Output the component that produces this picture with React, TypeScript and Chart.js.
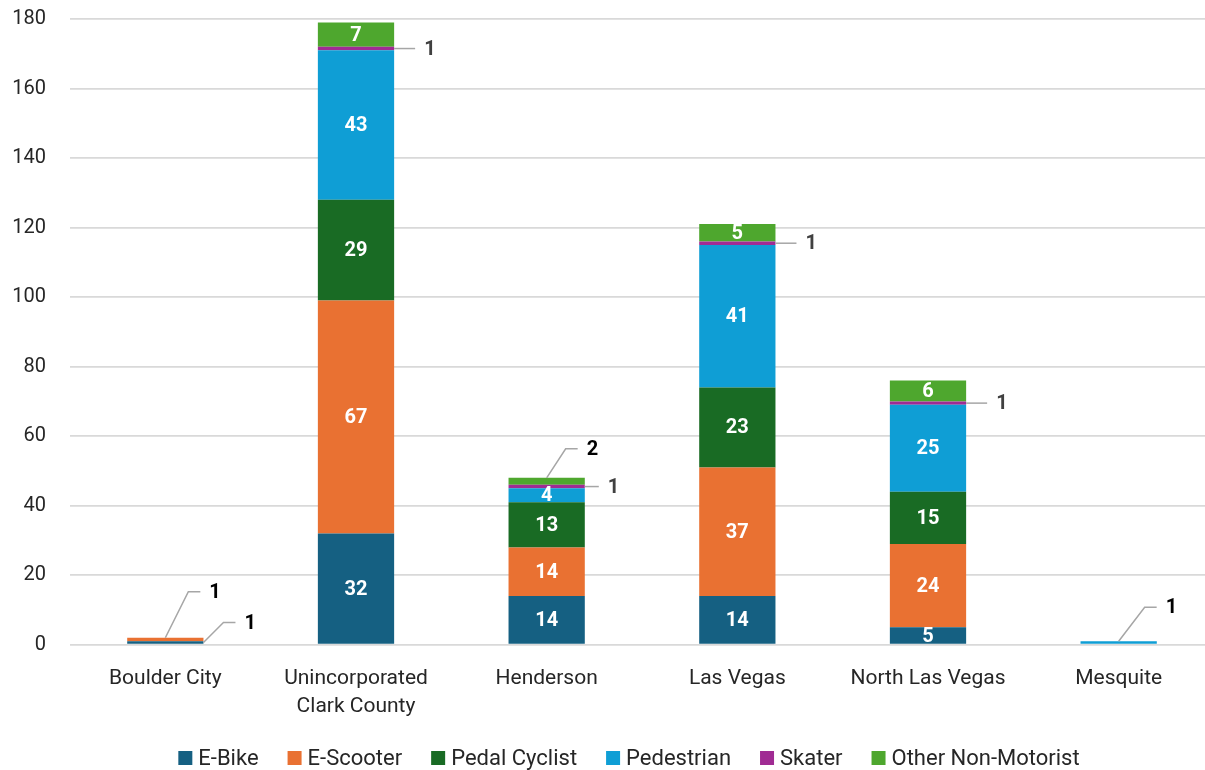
import React, { useEffect, useRef } from "react";
import { Chart, registerables } from "chart.js";

Chart.register(...registerables);

const categories: (string | string[])[] = [
  "Boulder City",
  ["Unincorporated", "Clark County"],
  "Henderson",
  "Las Vegas",
  "North Las Vegas",
  "Mesquite",
];
const seriesNames = ["E-Bike", "E-Scooter", "Pedal Cyclist", "Pedestrian", "Skater", "Other Non-Motorist"];
const eBike = [1, 32, 14, 14, 5, 0];
const eScooter = [1, 67, 14, 37, 24, 0];
const pedalCyclist = [0, 29, 13, 23, 15, 0];
const pedestrian = [0, 43, 4, 41, 25, 1];
const skater = [0, 1, 1, 1, 1, 0];
const otherNonMotorist = [0, 7, 2, 5, 6, 0];
const yTicks = [0, 20, 40, 60, 80, 100, 120, 140, 160, 180];

const colors = ["#156082", "#E97132", "#196B24", "#0F9ED5", "#A02B93", "#4EA72E"];

const FONT = "Roboto, 'Liberation Sans', sans-serif";

// callout label styles for small segments (dataset-index)
type Callout = { anchor: "right" | "center"; edge: "mid" | "top"; dx: number; dy: number; h: number; color: string };
const callouts: Record<string, Callout> = {
  "0-0": { anchor: "right", edge: "mid", dx: 20, dy: -20, h: 12, color: "#000000" },
  "1-0": { anchor: "center", edge: "top", dx: 23, dy: -46, h: 12, color: "#000000" },
  "4-1": { anchor: "right", edge: "mid", dx: 0, dy: 0, h: 21, color: "#404040" },
  "5-2": { anchor: "center", edge: "top", dx: 19, dy: -29, h: 12, color: "#000000" },
  "4-2": { anchor: "right", edge: "mid", dx: 0, dy: 0, h: 14, color: "#404040" },
  "4-3": { anchor: "right", edge: "mid", dx: 0, dy: 0, h: 21, color: "#404040" },
  "4-4": { anchor: "right", edge: "mid", dx: 0, dy: 0, h: 21, color: "#404040" },
  "3-5": { anchor: "center", edge: "top", dx: 26, dy: -34, h: 12, color: "#000000" },
};

const labelPlugin = {
  id: "segmentLabels",
  afterDatasetsDraw(chart: any) {
    const ctx = chart.ctx;
    chart.data.datasets.forEach((ds: any, di: number) => {
      const meta = chart.getDatasetMeta(di);
      meta.data.forEach((bar: any, i: number) => {
        const v = ds.data[i];
        if (!v) return;
        const { x, y, base, width } = bar.getProps(["x", "y", "base", "width"], true);
        ctx.save();
        ctx.font = `bold 20px ${FONT}`;
        ctx.textBaseline = "middle";
        const co = callouts[`${di}-${i}`];
        if (!co) {
          ctx.fillStyle = "#ffffff";
          ctx.textAlign = "center";
          ctx.fillText(String(v), x, (y + base) / 2 + 1);
        } else {
          const ax = co.anchor === "right" ? x + width / 2 : x;
          const ay = co.edge === "top" ? y : (y + base) / 2;
          const mx = ax + co.dx;
          const my = ay + co.dy;
          ctx.strokeStyle = "#a6a6a6";
          ctx.lineWidth = 1.5;
          ctx.beginPath();
          ctx.moveTo(ax, ay);
          ctx.lineTo(mx, my);
          ctx.lineTo(mx + co.h, my);
          ctx.stroke();
          ctx.fillStyle = co.color;
          ctx.textAlign = "left";
          ctx.fillText(String(v), mx + co.h + 9, my + 1);
        }
        ctx.restore();
      });
    });
  },
};

const legendPlugin = {
  id: "bottomLegend",
  afterDraw(chart: any) {
    const ctx = chart.ctx;
    ctx.save();
    ctx.font = `22px ${FONT}`;
    ctx.textBaseline = "middle";
    ctx.textAlign = "left";
    const box = 14, gap = 6, spacing = 29;
    const widths = chart.data.datasets.map((d: any) => ctx.measureText(d.label).width);
    const total = widths.reduce((a: number, b: number) => a + b, 0) + widths.length * (box + gap) + (widths.length - 1) * spacing;
    let x = 629 - total / 2;
    const cy = 758;
    chart.data.datasets.forEach((d: any, k: number) => {
      ctx.fillStyle = d.backgroundColor;
      ctx.fillRect(x, cy - box / 2, box, box);
      ctx.fillStyle = "#262626";
      ctx.fillText(d.label, x + box + gap, cy + 1);
      x += box + gap + widths[k] + spacing;
    });
    ctx.restore();
  },
};

export default function App() {
  const ref = useRef<HTMLCanvasElement>(null);
  useEffect(() => {
    const seriesData = [eBike, eScooter, pedalCyclist, pedestrian, skater, otherNonMotorist];
    const chart = new Chart(ref.current!, {
      type: "bar",
      data: {
        labels: categories,
        datasets: seriesNames.map((name, k) => ({
          label: name,
          data: seriesData[k],
          backgroundColor: colors[k],
          borderWidth: 0,
          categoryPercentage: 1,
          barPercentage: 0.4,
        })),
      },
      options: {
        animation: false,
        responsive: false,
        maintainAspectRatio: false,
        layout: { padding: { top: 19, right: 0, left: 0, bottom: 37 } },
        plugins: {
          tooltip: { enabled: false },
          legend: { display: false },
        },
        scales: {
          x: {
            stacked: true,
            grid: { display: false },
            border: { display: false },
            ticks: { color: "#262626", font: { family: FONT, size: 21, lineHeight: 1.34 }, padding: 12 },
          },
          y: {
            stacked: true,
            min: 0,
            max: 180,
            afterBuildTicks: (axis: any) => {
              axis.ticks = yTicks.map((v) => ({ value: v }));
            },
            afterFit: (axis: any) => {
              axis.width = 70;
              axis.paddingTop = 0;
              axis.paddingBottom = 0;
            },
            grid: { color: "#d9d9d9", lineWidth: 1.8, drawTicks: false },
            border: { display: false },
            ticks: { color: "#262626", font: { family: FONT, size: 20 }, padding: 24 },
          },
        },
      },
      plugins: [labelPlugin, legendPlugin],
    });
    return () => chart.destroy();
  }, []);
  return (
    <div style={{ position: "fixed", left: 0, top: 0, width: 1205, height: 770, overflow: "hidden", background: "#fff" }}>
      <canvas ref={ref} width={1214} height={770} style={{ width: 1214, height: 770, display: "block" }} />
    </div>
  );
}
